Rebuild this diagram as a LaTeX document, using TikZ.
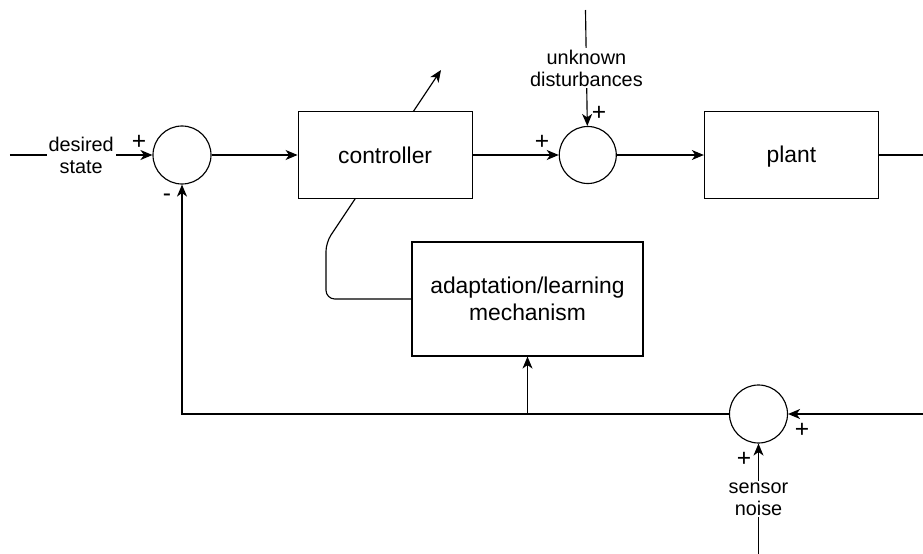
\documentclass[tikz,border=0pt]{standalone}
\usepackage{fontspec}
\setmainfont{Liberation Sans}
\usetikzlibrary{arrows.meta,positioning,backgrounds}

\begin{document}
\begin{tikzpicture}[
  node distance=1.72cm,
  block/.style={draw,fill=white,line width=0.65pt,minimum width=3.48cm,minimum height=1.74cm,
    align=center,font=\fontsize{13}{15}\selectfont},
  sumpt/.style={draw,fill=white,circle,line width=0.65pt,minimum size=1.16cm,inner sep=0pt},
  lbl/.style={fill=white,inner sep=1pt,align=center,font=\fontsize{11.3}{12.5}\selectfont},
  sgn/.style={inner sep=0pt,font=\fontsize{14}{15}\selectfont},
  arrow/.style={-{Stealth[length=2.4mm,width=2mm,inset=0.7mm]},line width=0.65pt},
  wire/.style={line width=0.65pt}
]
\useasboundingbox (0,0) rectangle (18.46,-11.08);
% forward path
\node[sumpt] (sum1) at (3.64,-3.1) {};
\node[block,right=of sum1] (ctrl) {controller};
\node[sumpt,minimum size=1.14cm,right=of ctrl] (sum2) {};
\node[block,right=1.74cm of sum2,text depth=0.25ex] (plant) {plant};
% feedback path
\node[block,minimum width=4.62cm,minimum height=2.28cm] (adapt) at (10.55,-5.98) {adaptation/learning\\mechanism};
\node[sumpt] (sum3) at (15.17,-8.28) {};
% free ends
\coordinate (in) at (0.2,-3.1);
\coordinate (dist) at (11.71,-0.2);
\coordinate (out) at (18.46,-3.1);
\coordinate (meas) at (18.46,-8.28);
\coordinate (noise) at (15.17,-11.08);
\coordinate (bend) at (6.52,-4.85);
\coordinate (tune) at (8.82,-1.4);
% signs at the summing points
\node[sgn] (p1) at (2.78,-2.84) {+};
\node[sgn] (m1) at (3.34,-3.96) {-};
\node[sgn] (p2) at (10.84,-2.84) {+};
\node[sgn] (p3) at (11.98,-2.26) {+};
\node[sgn] (p4) at (16.04,-8.6) {+};
\node[sgn] (p5) at (14.88,-9.18) {+};
% connections
\draw[arrow] (in) -- node[lbl] {desired\\state} (sum1);
\draw[arrow] (sum1) -- (ctrl);
\draw[arrow] (ctrl) -- (sum2);
\draw[arrow] (dist) -- node[lbl] {unknown\\disturbances} (sum2);
\draw[arrow] (sum2) -- (plant);
\draw[wire] (plant) -- (out);
\draw[arrow] (meas) -- (sum3);
\draw[arrow] (noise) -- node[lbl] {sensor\\noise} (sum3);
\draw[arrow] (sum3) -| (sum1);
\draw[arrow] (adapt.south |- sum3) -- (adapt);
% tuning arrow runs behind the controller
\begin{scope}[on background layer]
\draw[arrow,rounded corners=5pt] (adapt.west) -| (bend) -- (tune);
\end{scope}
\end{tikzpicture}
\end{document}
